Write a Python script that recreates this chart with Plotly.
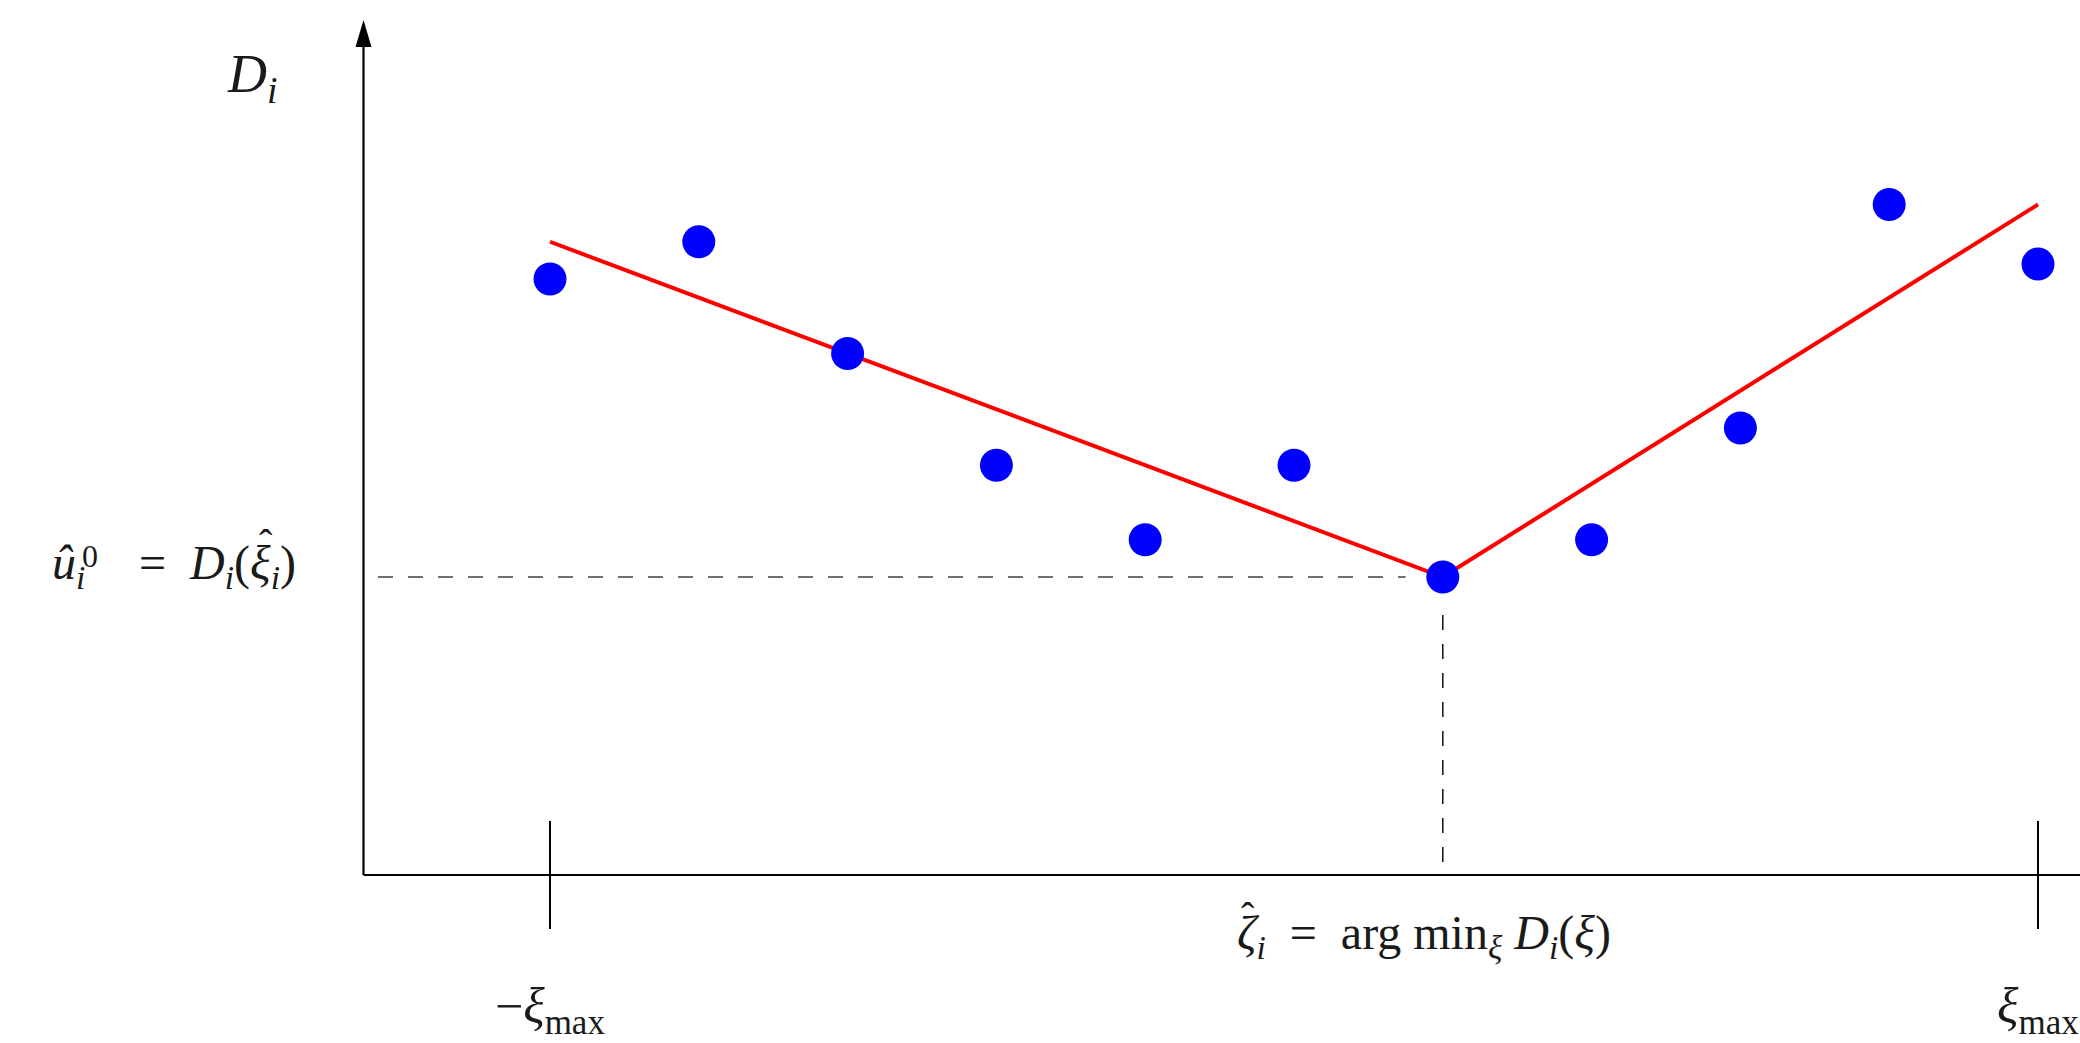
import plotly.graph_objects as go

# ---- data ----
xi_values = [-5, -4, -3, -2, -1, 0, 1, 2, 3, 4, 5]
d_values = [16, 17, 14, 11, 9, 11, 8, 9, 12, 18, 16.4]
fit_x = [-5, 1, 5]
fit_y = [17, 8, 18]
tick_vals = [-5, 5]
tick_labels = ["−<i>ξ</i><sub>max</sub>", "<i>ξ</i><sub>max</sub>"]

W, H = 2080, 1043
# pixel mapping (layout)
px0, ppu_x = 1294.0, 148.8
py0, ppu_y = 875.0, 37.25
x_lo = -px0 / ppu_x
x_hi = x_lo + W / ppu_x
y_hi = py0 / ppu_y
y_lo = y_hi - H / ppu_y


def dx(px):
    return (px - px0) / ppu_x


def dy(py):
    return (py0 - py) / ppu_y


axis_x = dx(363.5)

i_min = d_values.index(min(d_values))
x_star, y_star = xi_values[i_min], d_values[i_min]

FONT = "Liberation Serif"
TXT = "#1a1a1a"
fig = go.Figure()

# dashed guide lines
fig.add_trace(go.Scatter(x=[dx(378), x_star - 0.25], y=[y_star, y_star], mode="lines",
                         line=dict(color="#707070", width=2, dash="15px,15px"),
                         hoverinfo="skip", showlegend=False))
fig.add_trace(go.Scatter(x=[x_star, x_star], y=[dy(615), dy(867)], mode="lines",
                         line=dict(color="#000000", width=1.4, dash="15px,14px"),
                         hoverinfo="skip", showlegend=False))
# red fit line
fig.add_trace(go.Scatter(x=fit_x, y=fit_y, mode="lines",
                         line=dict(color="#ff0000", width=4),
                         hoverinfo="skip", showlegend=False))
# points
fig.add_trace(go.Scatter(x=xi_values, y=d_values, mode="markers",
                         marker=dict(color="#0000ff", size=33, line=dict(width=0)),
                         showlegend=False, cliponaxis=False))
# crossing ticks
fig.add_trace(go.Scatter(x=tick_vals, y=[0] * len(tick_vals), mode="markers",
                         marker=dict(symbol="line-ns", size=77,
                                     line=dict(color="#000000", width=2)),
                         hoverinfo="skip", showlegend=False, cliponaxis=False))

shapes = [
    dict(type="line", xref="x", yref="y", x0=axis_x, x1=x_hi, y0=0, y1=0,
         line=dict(color="#000000", width=2.2)),
    dict(type="line", xref="x", yref="y", x0=axis_x, x1=axis_x, y0=0, y1=dy(45),
         line=dict(color="#000000", width=2.2)),
    dict(type="path", xref="x", yref="y", xsizemode="pixel", ysizemode="pixel",
         xanchor=axis_x, yanchor=dy(20),
         path="M0,0 L-8,-27 L8,-27 Z", fillcolor="#000000", line=dict(width=0)),
]

EQ = "\u2002=\u2002"
annotations = [
    # D_i axis label
    dict(x=dx(252), y=dy(77), text="<i>D</i><sub><i>i</i></sub>",
         font=dict(family=FONT, size=54, color=TXT)),
    # u-hat label, left part (u with subscript i)
    dict(x=dx(50), y=dy(566), xanchor="left", text="<i>û</i><sub><i>i</i></sub>",
         font=dict(family=FONT, size=48, color=TXT)),
    # superscript 0 stacked above subscript
    dict(x=dx(80), y=dy(556), xanchor="left", text="0",
         font=dict(family=FONT, size=32, color=TXT)),
    # rest of the left label
    dict(x=dx(298), y=dy(566), xanchor="right",
         text=EQ + "<i>D</i><sub><i>i</i></sub>(<i>ξ</i><sub><i>i</i></sub>)",
         font=dict(family=FONT, size=48, color=TXT)),
    # hat over xi
    dict(x=dx(266), y=dy(543), text="ˆ", font=dict(family=FONT, size=40, color=TXT)),
    # bottom label
    dict(x=dx(1235), y=dy(936), xanchor="left",
         text="<i>ζ</i><sub><i>i</i></sub>" + EQ + "arg min<sub><i>ξ</i></sub> <i>D</i><sub><i>i</i></sub>(<i>ξ</i>)",
         font=dict(family=FONT, size=48, color=TXT)),
    # hat over zeta
    dict(x=dx(1248), y=dy(916), text="ˆ", font=dict(family=FONT, size=40, color=TXT)),
]
for tv, tl in zip(tick_vals, tick_labels):
    annotations.append(dict(x=tv, y=dy(1010), text=tl,
                            font=dict(family=FONT, size=50, color=TXT)))
for a in annotations:
    a.update(xref="x", yref="y", showarrow=False)

fig.update_layout(
    width=W, height=H, margin=dict(l=0, r=0, t=0, b=0, pad=0),
    paper_bgcolor="white", plot_bgcolor="white",
    xaxis=dict(range=[x_lo, x_hi], visible=False, fixedrange=True),
    yaxis=dict(range=[y_lo, y_hi], visible=False, fixedrange=True),
    shapes=shapes, annotations=annotations, showlegend=False,
)

fig.write_html("out.html", config={"displayModeBar": False},
               post_script="document.body.style.margin='0';document.body.style.overflow='hidden';")
